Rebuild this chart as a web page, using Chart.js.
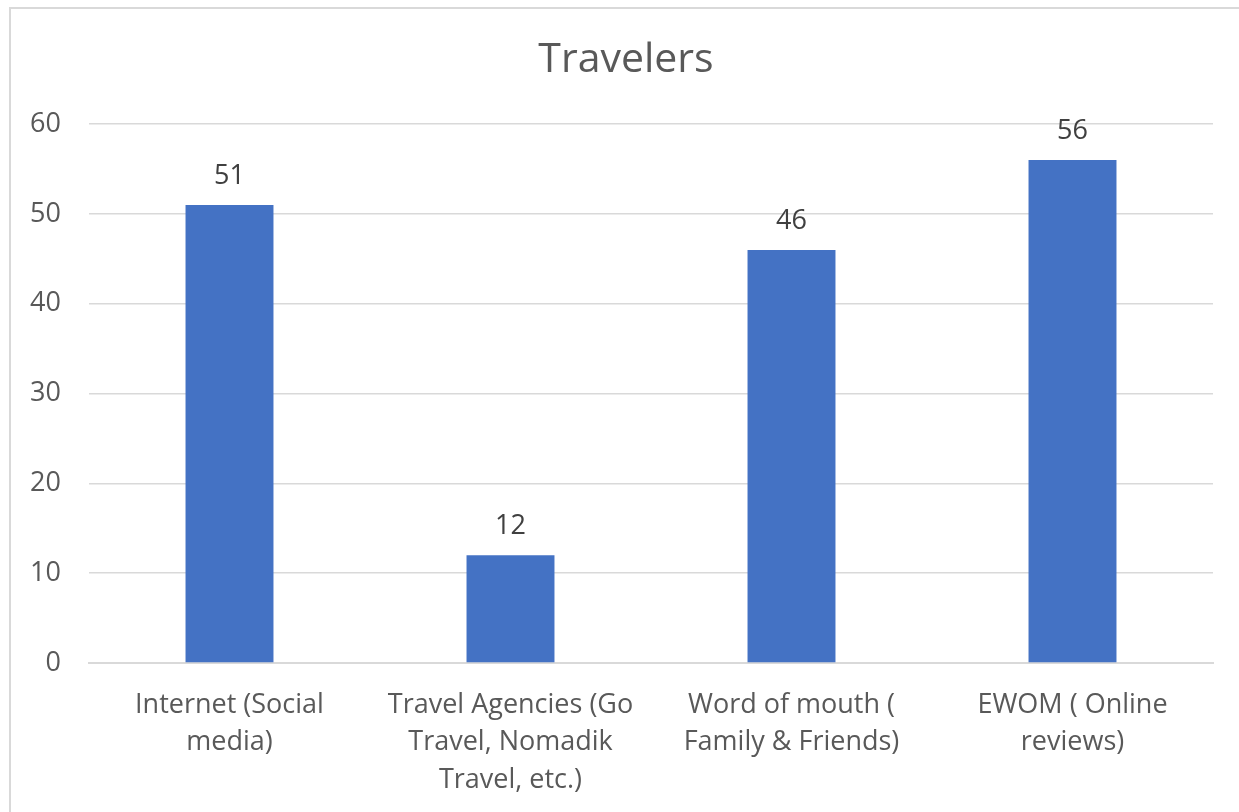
<!DOCTYPE html>
<html>
<head>
<meta charset="utf-8">
<script src="https://cdn.jsdelivr.net/npm/chart.js@4"></script>
<style>
  html, body { margin: 0; padding: 0; background: #fff; overflow: hidden; }
  #frame { position: absolute; left: 9px; top: 7px; width: 1240px; height: 820px; border: 2px solid #d9d9d9; }
  #wrap { position: absolute; left: 0; top: 0; width: 1239px; height: 812px; }
</style>
</head>
<body>
<div id="frame"></div>
<div id="wrap"><canvas id="chart"></canvas></div>
<script>
const categories = [
  ['Internet (Social', 'media)'],
  ['Travel Agencies (Go', 'Travel, Nomadik', 'Travel, etc.)'],
  ['Word of mouth (', 'Family & Friends)'],
  ['EWOM ( Online', 'reviews)']
];
const travelers = [51, 12, 46, 56];

const FONT = "'Open Sans', 'Noto Sans', sans-serif";

// value labels above the bars
const barLabels = {
  id: 'barLabels',
  afterDatasetsDraw(chart) {
    const ctx = chart.ctx;
    const meta = chart.getDatasetMeta(0);
    ctx.save();
    ctx.font = '27px ' + FONT;
    ctx.fillStyle = '#404040';
    ctx.textAlign = 'center';
    ctx.textBaseline = 'middle';
    meta.data.forEach((bar, i) => {
      ctx.fillText(String(travelers[i]), bar.x, bar.y - 29);
    });
    ctx.restore();
  }
};

new Chart(document.getElementById('chart').getContext('2d'), {
  type: 'bar',
  data: {
    labels: categories,
    datasets: [{
      label: 'Travelers',
      data: travelers,
      backgroundColor: '#4472C4',
      borderWidth: 0,
      categoryPercentage: 1,
      barPercentage: 0.313
    }]
  },
  options: {
    responsive: true,
    maintainAspectRatio: false,
    animation: false,
    layout: { padding: { left: 13, right: 0, top: 0, bottom: 0 } },
    scales: {
      x: {
        grid: { display: false, drawTicks: false },
        border: { display: true, color: '#d9d9d9', width: 2 },
        ticks: {
          color: '#595959',
          font: { family: FONT, size: 27, lineHeight: 1.4 },
          padding: 23,
          maxRotation: 0,
          autoSkip: false
        },
        afterFit(scale) { scale.height = 149; }
      },
      y: {
        min: 0,
        max: 60,
        grid: { color: '#d9d9d9', lineWidth: 1.5, drawTicks: false },
        border: { display: false },
        ticks: {
          stepSize: 10,
          color: '#595959',
          font: { family: FONT, size: 27 },
          padding: 28
        },
        afterFit(scale) { scale.width = 76; }
      },
      // empty right-hand spacer so the plot ends where the reference does
      spacer: {
        type: 'linear',
        position: 'right',
        grid: { display: false, drawTicks: false },
        border: { display: false },
        ticks: { display: false },
        afterFit(scale) { scale.width = 26; }
      }
    },
    plugins: {
      legend: { display: false },
      tooltip: { enabled: false },
      title: {
        display: true,
        text: 'Travelers',
        color: '#595959',
        font: { family: FONT, size: 41, weight: 'normal', lineHeight: 1.2 },
        padding: { top: 36, bottom: 39 }
      }
    }
  },
  plugins: [barLabels]
});
</script>
</body>
</html>
